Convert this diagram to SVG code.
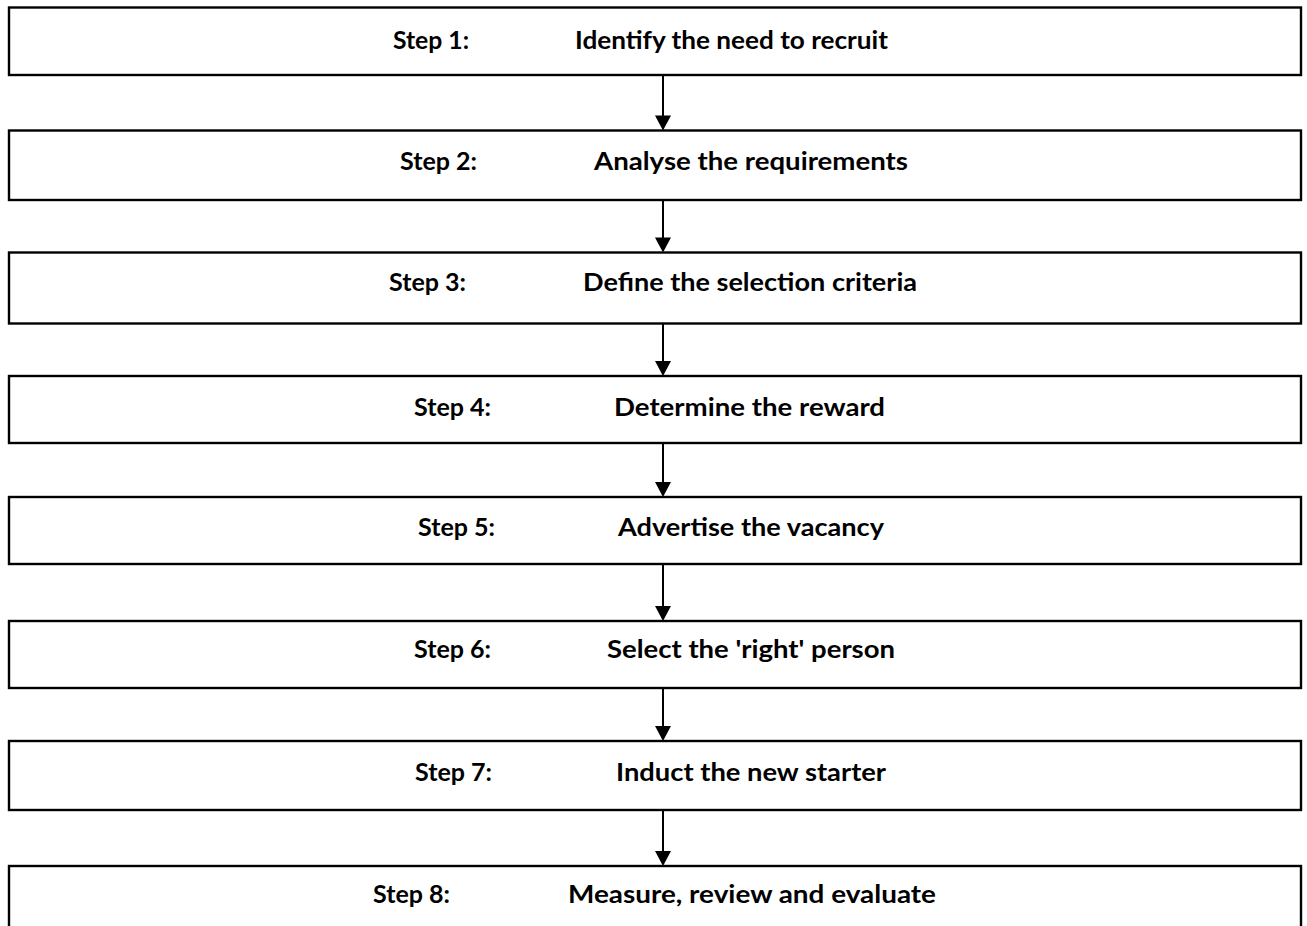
<svg xmlns="http://www.w3.org/2000/svg" width="1307" height="926" viewBox="0 0 1307 926">
  <style>
    .box { fill: #ffffff; stroke: #000000; stroke-width: 2.4; }
    .lbl { font-family: Lato, "Liberation Sans", sans-serif; font-weight: bold; font-size: 25px; fill: #000000; }
    .link { stroke: #000000; stroke-width: 2; fill: none; }
    .head { fill: #000000; }
  </style>
  <defs>
    <polygon id="arrowhead" class="head" points="-8,-15 8,-15 0,0"/>
  </defs>
  <rect width="1307" height="926" fill="#ffffff"/>

  <g id="step1">
    <rect class="box" x="9" y="7.5" width="1292" height="67.5"/>
    <text class="lbl" x="393" y="49" textLength="76" lengthAdjust="spacingAndGlyphs">Step 1:</text>
    <text class="lbl" x="575" y="49" textLength="313" lengthAdjust="spacingAndGlyphs">Identify the need to recruit</text>
  </g>
  <g id="step2">
    <rect class="box" x="9" y="130.5" width="1292" height="69.5"/>
    <text class="lbl" x="400" y="170" textLength="77" lengthAdjust="spacingAndGlyphs">Step 2:</text>
    <text class="lbl" x="594" y="170" textLength="314" lengthAdjust="spacingAndGlyphs">Analyse the requirements</text>
  </g>
  <g id="step3">
    <rect class="box" x="9" y="252.5" width="1292" height="71"/>
    <text class="lbl" x="389" y="291" textLength="77" lengthAdjust="spacingAndGlyphs">Step 3:</text>
    <text class="lbl" x="583" y="291" textLength="334" lengthAdjust="spacingAndGlyphs">Define the selection criteria</text>
  </g>
  <g id="step4">
    <rect class="box" x="9" y="376" width="1292" height="67"/>
    <text class="lbl" x="414" y="416" textLength="77" lengthAdjust="spacingAndGlyphs">Step 4:</text>
    <text class="lbl" x="614" y="416" textLength="271" lengthAdjust="spacingAndGlyphs">Determine the reward</text>
  </g>
  <g id="step5">
    <rect class="box" x="9" y="497" width="1292" height="67"/>
    <text class="lbl" x="418" y="536" textLength="77" lengthAdjust="spacingAndGlyphs">Step 5:</text>
    <text class="lbl" x="618" y="536" textLength="266" lengthAdjust="spacingAndGlyphs">Advertise the vacancy</text>
  </g>
  <g id="step6">
    <rect class="box" x="9" y="621" width="1292" height="67"/>
    <text class="lbl" x="414" y="658" textLength="77" lengthAdjust="spacingAndGlyphs">Step 6:</text>
    <text class="lbl" x="607" y="658" textLength="288" lengthAdjust="spacingAndGlyphs">Select the 'right' person</text>
  </g>
  <g id="step7">
    <rect class="box" x="9" y="741" width="1292" height="69"/>
    <text class="lbl" x="415" y="781" textLength="77" lengthAdjust="spacingAndGlyphs">Step 7:</text>
    <text class="lbl" x="616" y="781" textLength="270" lengthAdjust="spacingAndGlyphs">Induct the new starter</text>
  </g>
  <g id="step8">
    <rect class="box" x="9" y="866" width="1292" height="80"/>
    <text class="lbl" x="373" y="903" textLength="77" lengthAdjust="spacingAndGlyphs">Step 8:</text>
    <text class="lbl" x="568" y="903" textLength="368" lengthAdjust="spacingAndGlyphs">Measure, review and evaluate</text>
  </g>

  <g id="connectors">
    <line class="link" x1="663" y1="75" x2="663" y2="118"/>
    <use href="#arrowhead" x="663" y="130.5"/>
    <line class="link" x1="663" y1="200" x2="663" y2="240"/>
    <use href="#arrowhead" x="663" y="252.5"/>
    <line class="link" x1="663" y1="324" x2="663" y2="364"/>
    <use href="#arrowhead" x="663" y="376"/>
    <line class="link" x1="663" y1="443" x2="663" y2="485"/>
    <use href="#arrowhead" x="663" y="497"/>
    <line class="link" x1="663" y1="564" x2="663" y2="609"/>
    <use href="#arrowhead" x="663" y="621"/>
    <line class="link" x1="663" y1="688" x2="663" y2="729"/>
    <use href="#arrowhead" x="663" y="741"/>
    <line class="link" x1="663" y1="810" x2="663" y2="854"/>
    <use href="#arrowhead" x="663" y="866"/>
  </g>
</svg>
